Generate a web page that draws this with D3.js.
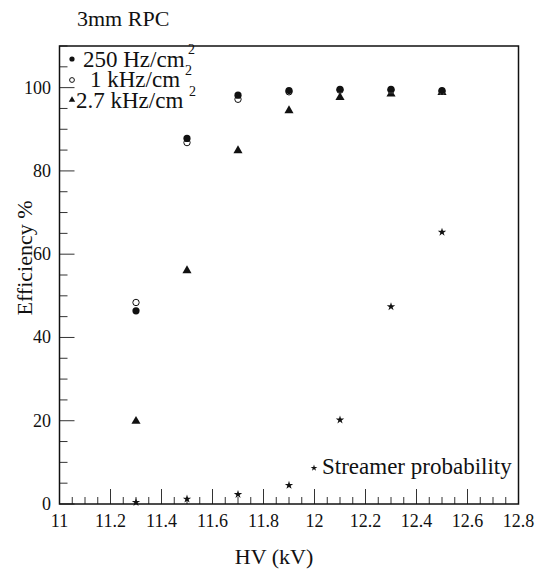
<!DOCTYPE html>
<html><head><meta charset="utf-8">
<script src="https://cdn.jsdelivr.net/npm/d3@7"></script>
<style>
html,body{margin:0;padding:0;background:#fff;}
#wrap{position:relative;width:537px;height:570px;}
#wrap svg{position:absolute;left:0;top:0;}
.lbl{position:absolute;white-space:nowrap;line-height:0;font-family:'Liberation Serif';color:#111;}
</style></head>
<body><div id="wrap"><svg id="c" width="537" height="570"></svg></div>
<script>
const hv = [11.3, 11.5, 11.7, 11.9, 12.1, 12.3, 12.5];
const eff250 = [46.4, 87.8, 98.2, 99.3, 99.6, 99.6, 99.3];
const eff1k = [48.4, 86.8, 97.2, 99.0, 99.4, 99.4, 99.1];
const eff2700 = [20.0, 56.2, 85.0, 94.6, 97.8, 98.6, 99.0];
const streamer = [0.4, 1.2, 2.3, 4.5, 20.2, 47.4, 65.3];
const xTicks = [11, 11.2, 11.4, 11.6, 11.8, 12, 12.2, 12.4, 12.6, 12.8];
const yTicks = [0, 20, 40, 60, 80, 100];
const legendLabels = ["250 Hz/cm", "1 kHz/cm", "2.7 kHz/cm"];

const svg = d3.select("#c");
const wrap = d3.select("#wrap");
const L = 59.5, R = 518.5, T = 46, B = 504;
const x = d3.scaleLinear().domain([11, 12.8]).range([L, R]);
const y = d3.scaleLinear().domain([0, 110]).range([B, T]);

// text helper: baseline at (bx, by); anchor start/middle/end
function label(t, bx, by, fs, anchor, rotate) {
  const dx = anchor === "middle" ? "-50%" : anchor === "end" ? "-100%" : "0";
  const dy = -0.3375 * fs;
  return wrap.append("div").attr("class", "lbl")
    .style("left", bx + "px").style("top", by + "px")
    .style("font-size", fs + "px")
    .style("transform-origin", "0 0")
    .style("transform", (rotate ? `rotate(${rotate}deg) ` : "") + `translate(${dx}, ${dy}px)`)
    .text(t);
}

// minor ticks
const xMinor = d3.range(0, 37).map(i => 11 + i * 0.05);
const yMinor = d3.range(0, 23).map(i => i * 5);
svg.selectAll("line.xm").data(xMinor).enter().append("line")
  .attr("x1", d => x(d)).attr("x2", d => x(d))
  .attr("y1", B).attr("y2", d => (Math.abs(d*5 - Math.round(d*5)) < 1e-6) ? B - 15 : B - 7)
  .attr("stroke", "#333").attr("stroke-width", 1);
svg.selectAll("line.ym").data(yMinor).enter().append("line")
  .attr("y1", d => y(d)).attr("y2", d => y(d))
  .attr("x1", L).attr("x2", d => (d % 20 === 0) ? L + 15 : L + 8)
  .attr("stroke", "#333").attr("stroke-width", 1);

// frame
svg.append("rect").attr("x", L).attr("y", T).attr("width", R - L).attr("height", B - T)
  .attr("fill", "none").attr("stroke", "#111").attr("stroke-width", 1.5);

// tick labels
xTicks.forEach(d => label(String(+d.toFixed(1)), x(d), 527, 18, "middle"));
yTicks.forEach(d => label(String(d), 51, y(d) + 6, 18, "end"));

// titles
label("3mm RPC", 77, 26, 22, "start");
label("HV (kV)", 274, 564, 22, "middle");
label("Efficiency %", 32, 258, 22, "middle", -90);

// markers
const tri = d3.symbol().type(d3.symbolTriangle);
const star = d3.symbol().type(d3.symbolStar);
svg.selectAll("path.s").data(streamer).enter().append("path")
  .attr("transform", (d, i) => `translate(${x(hv[i])},${y(d)})`)
  .attr("d", star.size(22)()).attr("fill", "#111");
svg.selectAll("path.t").data(eff2700).enter().append("path")
  .attr("transform", (d, i) => `translate(${x(hv[i])},${y(d) + 0.5})`)
  .attr("d", tri.size(36)()).attr("fill", "#111");
svg.selectAll("circle.o").data(eff1k).enter().append("circle")
  .attr("cx", (d, i) => x(hv[i])).attr("cy", d => y(d)).attr("r", 3.2)
  .attr("fill", "#fff").attr("stroke", "#111").attr("stroke-width", 1);
svg.selectAll("circle.f").data(eff250).enter().append("circle")
  .attr("cx", (d, i) => x(hv[i])).attr("cy", d => y(d)).attr("r", 3.6)
  .attr("fill", "#111");

// legend
const lx = [83, 90, 76], ly = [68, 88, 109];
const sx = [188, 185, 189], sy = [55, 76, 97];
legendLabels.forEach((t, i) => {
  label(t, lx[i], ly[i], 23, "start");
  label("2", sx[i], sy[i], 14, "start");
});
svg.append("circle").attr("cx", 72).attr("cy", 59).attr("r", 2.6).attr("fill", "#111");
svg.append("circle").attr("cx", 72).attr("cy", 80).attr("r", 2.4).attr("fill", "#fff").attr("stroke", "#111").attr("stroke-width", 1);
svg.append("path").attr("transform", "translate(72,100)").attr("d", tri.size(18)()).attr("fill", "#111");
svg.append("path").attr("transform", "translate(314,468)").attr("d", star.size(14)()).attr("fill", "#111");
label("Streamer probability", 322, 475, 23, "start");
</script></body></html>
